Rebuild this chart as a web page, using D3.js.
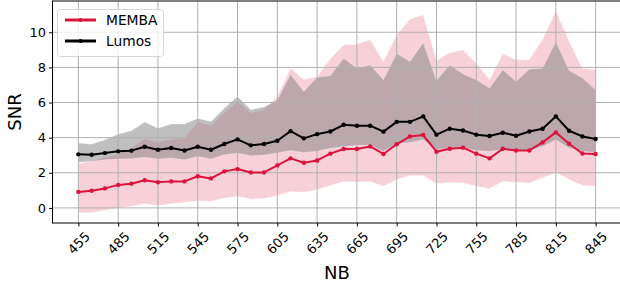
<!DOCTYPE html>
<html>
<head>
<meta charset="utf-8">
<script src="https://cdn.jsdelivr.net/npm/d3@7"></script>
<style>
  body { margin: 0; background: #fff; }
  svg { display: block; font-family: "DejaVu Sans", sans-serif; }
</style>
</head>
<body>
<div id="chart"></div>
<script>
// NB values 455..845, step 10
var nb = [455, 465, 475, 485, 495, 505, 515, 525, 535, 545,
          555, 565, 575, 585, 595, 605, 615, 625, 635, 645,
          655, 665, 675, 685, 695, 705, 715, 725, 735, 745,
          755, 765, 775, 785, 795, 805, 815, 825, 835, 845];

var membaMean = [0.91, 0.98, 1.11, 1.31, 1.38, 1.57, 1.46, 1.51, 1.51, 1.80,
                 1.68, 2.08, 2.21, 2.02, 2.02, 2.42, 2.82, 2.57, 2.70, 3.09,
                 3.35, 3.35, 3.50, 3.07, 3.62, 4.07, 4.15, 3.20, 3.37, 3.43,
                 3.09, 2.82, 3.37, 3.27, 3.27, 3.73, 4.30, 3.65, 3.10, 3.07];
var membaUpper = [2.50, 2.69, 2.88, 3.07, 3.41, 3.94, 3.75, 3.90, 3.98, 4.89,
                  4.68, 5.43, 6.06, 5.40, 5.59, 6.34, 7.95, 7.29, 7.48, 8.50,
                  9.28, 9.32, 9.58, 8.33, 9.85, 10.74, 10.98, 8.39, 8.84, 8.99,
                  8.24, 7.29, 8.77, 8.43, 8.43, 9.60, 11.23, 9.47, 7.95, 7.86];
var membaLower = [-0.28, -0.28, -0.14, 0.00, 0.09, 0.24, 0.13, 0.24, 0.32, 0.40,
                  0.38, 0.57, 0.66, 0.51, 0.53, 0.70, 0.93, 0.89, 1.04, 1.27,
                  1.51, 1.48, 1.51, 1.23, 1.61, 1.84, 1.85, 1.38, 1.46, 1.42,
                  1.23, 1.10, 1.51, 1.46, 1.42, 1.70, 2.02, 1.61, 1.29, 1.23];

var lumosMean = [3.05, 3.03, 3.12, 3.22, 3.26, 3.48, 3.31, 3.41, 3.27, 3.48,
                 3.31, 3.64, 3.90, 3.56, 3.64, 3.82, 4.37, 3.96, 4.20, 4.35,
                 4.73, 4.68, 4.68, 4.34, 4.90, 4.90, 5.21, 4.17, 4.51, 4.41,
                 4.17, 4.09, 4.28, 4.11, 4.35, 4.51, 5.21, 4.39, 4.07, 3.92];
var lumosUpper = [3.69, 3.63, 3.88, 4.20, 4.39, 4.89, 4.54, 4.77, 4.77, 5.09,
                  4.92, 5.68, 6.34, 5.59, 5.74, 6.15, 7.60, 6.63, 7.44, 7.52,
                  8.52, 7.95, 8.14, 7.29, 8.80, 8.33, 9.41, 7.25, 8.14, 7.63,
                  7.29, 6.82, 7.86, 7.20, 7.90, 7.95, 9.47, 7.82, 7.39, 6.72];
var lumosLower = [2.59, 2.65, 2.74, 2.78, 2.80, 2.88, 2.78, 2.84, 2.74, 2.93,
                  2.78, 3.03, 3.12, 2.97, 3.01, 3.12, 3.27, 3.16, 3.22, 3.39,
                  3.50, 3.56, 3.58, 3.22, 3.65, 3.73, 3.88, 3.31, 3.41, 3.41,
                  3.27, 3.22, 3.31, 3.22, 3.27, 3.50, 3.88, 3.41, 3.22, 3.16];

var xTicks = [455, 485, 515, 545, 575, 605, 635, 665, 695, 725, 755, 785, 815, 845];
var yTicks = [0, 2, 4, 6, 8, 10];

var width = 620, height = 289;
var plotLeft = 52.5, plotRight = 621.5, plotTop = 1, plotBottom = 223;

var svg = d3.select('#chart').append('svg')
    .attr('width', width)
    .attr('height', height);

var x = d3.scaleLinear().domain([435.5, 864.5]).range([plotLeft, plotRight]);
var y = d3.scaleLinear().domain([-0.86, 11.78]).range([plotBottom, plotTop]);

function band(lo, hi) {
    return d3.area()
        .x(function(d, i) { return x(nb[i]); })
        .y0(function(d, i) { return y(lo[i]); })
        .y1(function(d, i) { return y(hi[i]); })(nb);
}

// shaded ranges
svg.append('path')
    .attr('d', band(membaLower, membaUpper))
    .attr('fill', 'rgba(220,20,60,0.2)')
    .attr('stroke', 'rgba(255,255,255,0.25)')
    .attr('stroke-width', 1);

svg.append('path')
    .attr('d', band(lumosLower, lumosUpper))
    .attr('fill', 'rgba(128,128,128,0.5)')
    .attr('stroke', 'rgba(255,255,255,0.25)')
    .attr('stroke-width', 1);

// grid
var grid = svg.append('g').attr('stroke', '#b0b0b0').attr('stroke-width', 1);
xTicks.forEach(function(t) {
    grid.append('line')
        .attr('x1', x(t)).attr('x2', x(t))
        .attr('y1', plotTop).attr('y2', plotBottom);
});
yTicks.forEach(function(t) {
    grid.append('line')
        .attr('x1', plotLeft).attr('x2', plotRight)
        .attr('y1', y(t)).attr('y2', y(t));
});

// mean lines
var line = d3.line()
    .x(function(d, i) { return x(nb[i]); })
    .y(function(d) { return y(d); });

function drawSeries(vals, color) {
    svg.append('path')
        .datum(vals)
        .attr('d', line)
        .attr('fill', 'none')
        .attr('stroke', color)
        .attr('stroke-width', 2)
        .attr('stroke-linejoin', 'round');
    svg.append('g').selectAll('circle')
        .data(vals)
        .enter()
        .append('circle')
        .attr('cx', function(d, i) { return x(nb[i]); })
        .attr('cy', function(d) { return y(d); })
        .attr('r', 2.2)
        .attr('fill', color);
}
drawSeries(membaMean, '#dc143c');
drawSeries(lumosMean, '#000000');

// axes
var xAxis = svg.append('g')
    .attr('transform', 'translate(0,' + plotBottom + ')')
    .call(d3.axisBottom(x).tickValues(xTicks).tickSize(3.5).tickPadding(3).tickSizeOuter(0));
xAxis.select('.domain').remove();
xAxis.selectAll('text')
    .attr('font-size', 13)
    .attr('font-family', 'DejaVu Sans')
    .attr('fill', '#000')
    .attr('text-anchor', 'middle')
    .attr('dy', null)
    .attr('y', 0)
    .attr('dominant-baseline', 'central')
    .attr('transform', 'translate(0,20) rotate(-45)');

var yAxis = svg.append('g')
    .attr('transform', 'translate(' + plotLeft + ',0)')
    .call(d3.axisLeft(y).tickValues(yTicks).tickSize(3.5).tickPadding(3).tickSizeOuter(0));
yAxis.select('.domain').remove();
yAxis.selectAll('text')
    .attr('font-size', 13)
    .attr('font-family', 'DejaVu Sans')
    .attr('fill', '#000');

// frame
svg.append('rect')
    .attr('x', plotLeft).attr('y', plotTop)
    .attr('width', plotRight - plotLeft).attr('height', plotBottom - plotTop)
    .attr('fill', 'none')
    .attr('stroke', '#000')
    .attr('stroke-width', 1);

// axis labels
svg.append('text')
    .attr('x', 337)
    .attr('y', 279)
    .attr('text-anchor', 'middle')
    .attr('font-size', 18)
    .text('NB');

svg.append('text')
    .attr('transform', 'translate(21,' + ((plotTop + plotBottom) / 2) + ') rotate(-90)')
    .attr('text-anchor', 'middle')
    .attr('font-size', 18)
    .text('SNR');

// legend
var legend = svg.append('g');
legend.append('rect')
    .attr('x', 57.5).attr('y', 9.5)
    .attr('width', 106).attr('height', 47)
    .attr('rx', 3)
    .attr('fill', 'rgba(255,255,255,0.8)')
    .attr('stroke', '#d6d6d6');

var legendItems = [['MEMBA', '#dc143c'], ['Lumos', '#000000']];
legendItems.forEach(function(item, i) {
    var ly = 20 + i * 21;
    legend.append('line')
        .attr('x1', 65).attr('x2', 96)
        .attr('y1', ly).attr('y2', ly)
        .attr('stroke', item[1])
        .attr('stroke-width', 3);
    legend.append('circle')
        .attr('cx', 80.5).attr('cy', ly).attr('r', 2)
        .attr('fill', item[1]);
    legend.append('text')
        .attr('x', 106)
        .attr('y', ly)
        .attr('dy', '0.35em')
        .attr('font-size', 13.8)
        .text(item[0]);
});
</script>
</body>
</html>
